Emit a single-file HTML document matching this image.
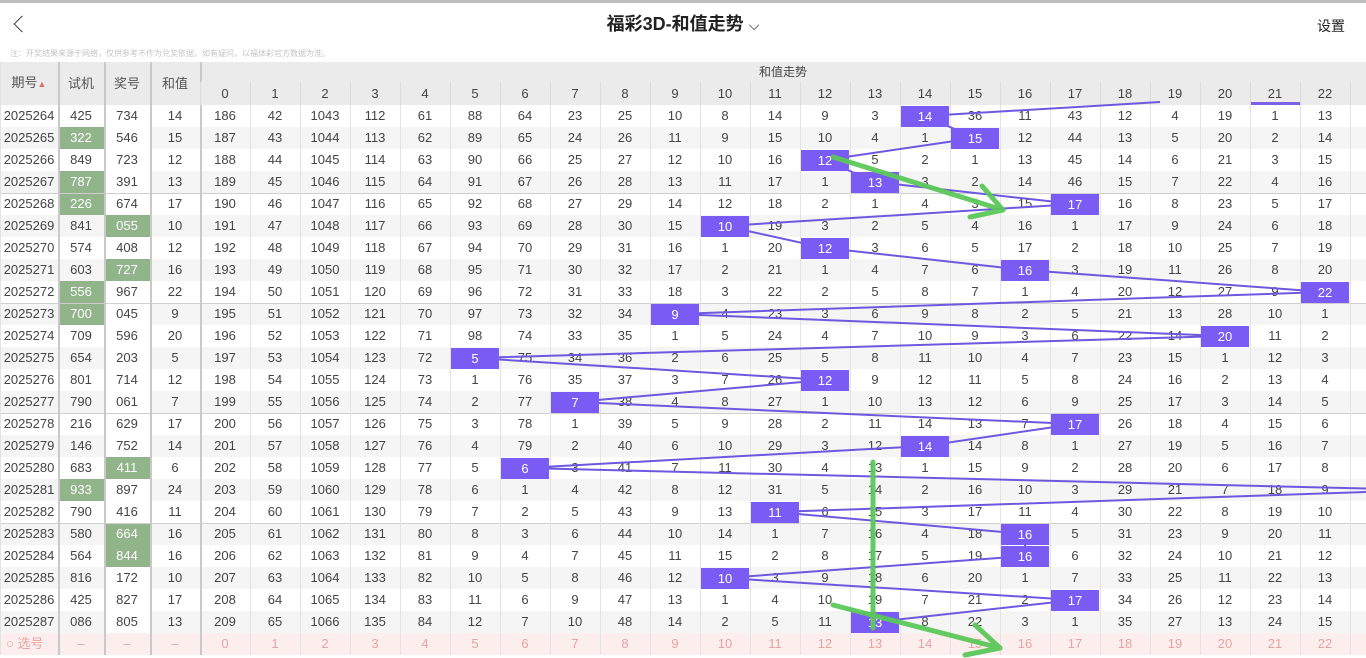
<!DOCTYPE html>
<html><head><meta charset="utf-8">
<style>
*{margin:0;padding:0;box-sizing:border-box}
html,body{width:1366px;height:658px;overflow:hidden;background:#fff;font-family:"Liberation Sans","Noto Sans CJK SC",sans-serif;color:#444}
.top{position:absolute;left:0;top:0;width:1366px;height:3px;background:#bdbdbd}
.title{position:absolute;left:0;top:10px;width:1366px;text-align:center;font-size:18px;font-weight:bold;color:#222}
.back{position:absolute;left:16px;top:18px;width:12px;height:12px;border-left:1.5px solid #444;border-bottom:1.5px solid #444;transform:rotate(45deg)}
.set{position:absolute;right:21px;top:16px;font-size:14px;color:#222}
.note{position:absolute;left:10px;top:48px;font-size:8px;color:#c4c4c4}
table{position:absolute;left:0;top:62px;border-collapse:separate;border-spacing:0;table-layout:fixed;width:1366px;font-size:13px}
td,th{padding:0;text-align:center;font-weight:normal;height:22px;line-height:22px;white-space:nowrap;overflow:hidden;box-shadow:inset 1px 0 #e3e3e3}
thead th{background:#ebebeb;color:#444}
thead tr.h1 th{height:20px;line-height:20px}
thead tr.h2 th{height:23px;line-height:23px;box-shadow:inset 1px 0 #dcdcdc}
th.L{font-size:13px;color:#555}
tbody tr:nth-child(even) td{background:#f5f5f5}
td.s,th.s{box-shadow:inset 2px 0 #c9c9c9}
tbody tr.g td{box-shadow:inset 1px 0 #e3e3e3,inset 0 1px #cfcfcf}
tbody tr.g td.s{box-shadow:inset 2px 0 #c9c9c9,inset 0 1px #cfcfcf}
td.gr{background:#92b48b!important;color:#fff}
td.w{background:#fff!important}
tr.last td{background:#fdeeee!important;color:#e7a2a2}
</style></head><body>
<div class="top"></div>
<div class="back"></div>
<div class="title">福彩3D-和值走势 <span style="font-weight:normal;font-size:14px">⌵</span></div>
<div class="set">设置</div>
<div class="note">注：开奖结果来源于网络，仅供参考不作为兑奖依据，如有疑问，以福体彩官方数据为准。</div>
<table>
<colgroup><col style="width:58px"><col style="width:46px"><col style="width:46px"><col style="width:50px">
<col style="width:50px"><col style="width:50px"><col style="width:50px"><col style="width:50px"><col style="width:50px"><col style="width:50px"><col style="width:50px"><col style="width:50px"><col style="width:50px"><col style="width:50px"><col style="width:50px"><col style="width:50px"><col style="width:50px"><col style="width:50px"><col style="width:50px"><col style="width:50px"><col style="width:50px"><col style="width:50px"><col style="width:50px"><col style="width:50px"><col style="width:50px"><col style="width:50px"><col style="width:50px"><col style="width:16px"></colgroup>
<thead>
<tr class="h1"><th rowspan="2" class="L">期号<span style="color:#e07070;font-size:9px">▲</span></th><th rowspan="2" class="L s">试机</th><th rowspan="2" class="L s">奖号</th><th rowspan="2" class="L s">和值</th><th colspan="24" class="s" style="font-size:12px">和值走势</th></tr>
<tr class="h2"><th class="s">0</th><th>1</th><th>2</th><th>3</th><th>4</th><th>5</th><th>6</th><th>7</th><th>8</th><th>9</th><th>10</th><th>11</th><th>12</th><th>13</th><th>14</th><th>15</th><th>16</th><th>17</th><th>18</th><th>19</th><th>20</th><th style="box-shadow:inset 1px 0 #dcdcdc,inset 0 -3px #7b61e8">21</th><th>22</th><th></th></tr>
</thead>
<tbody>
<tr><td>2025264</td><td class="s">425</td><td class="s w">734</td><td class="s">14</td><td class="s">186</td><td>42</td><td>1043</td><td>112</td><td>61</td><td>88</td><td>64</td><td>23</td><td>25</td><td>10</td><td>8</td><td>14</td><td>9</td><td>3</td><td>14</td><td>36</td><td>11</td><td>43</td><td>12</td><td>4</td><td>19</td><td>1</td><td>13</td><td></td></tr>
<tr><td>2025265</td><td class="s gr">322</td><td class="s w">546</td><td class="s">15</td><td class="s">187</td><td>43</td><td>1044</td><td>113</td><td>62</td><td>89</td><td>65</td><td>24</td><td>26</td><td>11</td><td>9</td><td>15</td><td>10</td><td>4</td><td>1</td><td>15</td><td>12</td><td>44</td><td>13</td><td>5</td><td>20</td><td>2</td><td>14</td><td></td></tr>
<tr><td>2025266</td><td class="s">849</td><td class="s w">723</td><td class="s">12</td><td class="s">188</td><td>44</td><td>1045</td><td>114</td><td>63</td><td>90</td><td>66</td><td>25</td><td>27</td><td>12</td><td>10</td><td>16</td><td>12</td><td>5</td><td>2</td><td>1</td><td>13</td><td>45</td><td>14</td><td>6</td><td>21</td><td>3</td><td>15</td><td></td></tr>
<tr><td>2025267</td><td class="s gr">787</td><td class="s w">391</td><td class="s">13</td><td class="s">189</td><td>45</td><td>1046</td><td>115</td><td>64</td><td>91</td><td>67</td><td>26</td><td>28</td><td>13</td><td>11</td><td>17</td><td>1</td><td>13</td><td>3</td><td>2</td><td>14</td><td>46</td><td>15</td><td>7</td><td>22</td><td>4</td><td>16</td><td></td></tr>
<tr class="g"><td>2025268</td><td class="s gr">226</td><td class="s w">674</td><td class="s">17</td><td class="s">190</td><td>46</td><td>1047</td><td>116</td><td>65</td><td>92</td><td>68</td><td>27</td><td>29</td><td>14</td><td>12</td><td>18</td><td>2</td><td>1</td><td>4</td><td>3</td><td>15</td><td>17</td><td>16</td><td>8</td><td>23</td><td>5</td><td>17</td><td></td></tr>
<tr><td>2025269</td><td class="s">841</td><td class="s gr">055</td><td class="s">10</td><td class="s">191</td><td>47</td><td>1048</td><td>117</td><td>66</td><td>93</td><td>69</td><td>28</td><td>30</td><td>15</td><td>10</td><td>19</td><td>3</td><td>2</td><td>5</td><td>4</td><td>16</td><td>1</td><td>17</td><td>9</td><td>24</td><td>6</td><td>18</td><td></td></tr>
<tr><td>2025270</td><td class="s">574</td><td class="s w">408</td><td class="s">12</td><td class="s">192</td><td>48</td><td>1049</td><td>118</td><td>67</td><td>94</td><td>70</td><td>29</td><td>31</td><td>16</td><td>1</td><td>20</td><td>12</td><td>3</td><td>6</td><td>5</td><td>17</td><td>2</td><td>18</td><td>10</td><td>25</td><td>7</td><td>19</td><td></td></tr>
<tr><td>2025271</td><td class="s">603</td><td class="s gr">727</td><td class="s">16</td><td class="s">193</td><td>49</td><td>1050</td><td>119</td><td>68</td><td>95</td><td>71</td><td>30</td><td>32</td><td>17</td><td>2</td><td>21</td><td>1</td><td>4</td><td>7</td><td>6</td><td>16</td><td>3</td><td>19</td><td>11</td><td>26</td><td>8</td><td>20</td><td></td></tr>
<tr><td>2025272</td><td class="s gr">556</td><td class="s w">967</td><td class="s">22</td><td class="s">194</td><td>50</td><td>1051</td><td>120</td><td>69</td><td>96</td><td>72</td><td>31</td><td>33</td><td>18</td><td>3</td><td>22</td><td>2</td><td>5</td><td>8</td><td>7</td><td>1</td><td>4</td><td>20</td><td>12</td><td>27</td><td>9</td><td>22</td><td></td></tr>
<tr class="g"><td>2025273</td><td class="s gr">700</td><td class="s w">045</td><td class="s">9</td><td class="s">195</td><td>51</td><td>1052</td><td>121</td><td>70</td><td>97</td><td>73</td><td>32</td><td>34</td><td>9</td><td>4</td><td>23</td><td>3</td><td>6</td><td>9</td><td>8</td><td>2</td><td>5</td><td>21</td><td>13</td><td>28</td><td>10</td><td>1</td><td></td></tr>
<tr><td>2025274</td><td class="s">709</td><td class="s w">596</td><td class="s">20</td><td class="s">196</td><td>52</td><td>1053</td><td>122</td><td>71</td><td>98</td><td>74</td><td>33</td><td>35</td><td>1</td><td>5</td><td>24</td><td>4</td><td>7</td><td>10</td><td>9</td><td>3</td><td>6</td><td>22</td><td>14</td><td>20</td><td>11</td><td>2</td><td></td></tr>
<tr><td>2025275</td><td class="s">654</td><td class="s w">203</td><td class="s">5</td><td class="s">197</td><td>53</td><td>1054</td><td>123</td><td>72</td><td>5</td><td>75</td><td>34</td><td>36</td><td>2</td><td>6</td><td>25</td><td>5</td><td>8</td><td>11</td><td>10</td><td>4</td><td>7</td><td>23</td><td>15</td><td>1</td><td>12</td><td>3</td><td></td></tr>
<tr><td>2025276</td><td class="s">801</td><td class="s w">714</td><td class="s">12</td><td class="s">198</td><td>54</td><td>1055</td><td>124</td><td>73</td><td>1</td><td>76</td><td>35</td><td>37</td><td>3</td><td>7</td><td>26</td><td>12</td><td>9</td><td>12</td><td>11</td><td>5</td><td>8</td><td>24</td><td>16</td><td>2</td><td>13</td><td>4</td><td></td></tr>
<tr><td>2025277</td><td class="s">790</td><td class="s w">061</td><td class="s">7</td><td class="s">199</td><td>55</td><td>1056</td><td>125</td><td>74</td><td>2</td><td>77</td><td>7</td><td>38</td><td>4</td><td>8</td><td>27</td><td>1</td><td>10</td><td>13</td><td>12</td><td>6</td><td>9</td><td>25</td><td>17</td><td>3</td><td>14</td><td>5</td><td></td></tr>
<tr class="g"><td>2025278</td><td class="s">216</td><td class="s w">629</td><td class="s">17</td><td class="s">200</td><td>56</td><td>1057</td><td>126</td><td>75</td><td>3</td><td>78</td><td>1</td><td>39</td><td>5</td><td>9</td><td>28</td><td>2</td><td>11</td><td>14</td><td>13</td><td>7</td><td>17</td><td>26</td><td>18</td><td>4</td><td>15</td><td>6</td><td></td></tr>
<tr><td>2025279</td><td class="s">146</td><td class="s w">752</td><td class="s">14</td><td class="s">201</td><td>57</td><td>1058</td><td>127</td><td>76</td><td>4</td><td>79</td><td>2</td><td>40</td><td>6</td><td>10</td><td>29</td><td>3</td><td>12</td><td>14</td><td>14</td><td>8</td><td>1</td><td>27</td><td>19</td><td>5</td><td>16</td><td>7</td><td></td></tr>
<tr><td>2025280</td><td class="s">683</td><td class="s gr">411</td><td class="s">6</td><td class="s">202</td><td>58</td><td>1059</td><td>128</td><td>77</td><td>5</td><td>6</td><td>3</td><td>41</td><td>7</td><td>11</td><td>30</td><td>4</td><td>13</td><td>1</td><td>15</td><td>9</td><td>2</td><td>28</td><td>20</td><td>6</td><td>17</td><td>8</td><td></td></tr>
<tr><td>2025281</td><td class="s gr">933</td><td class="s w">897</td><td class="s">24</td><td class="s">203</td><td>59</td><td>1060</td><td>129</td><td>78</td><td>6</td><td>1</td><td>4</td><td>42</td><td>8</td><td>12</td><td>31</td><td>5</td><td>14</td><td>2</td><td>16</td><td>10</td><td>3</td><td>29</td><td>21</td><td>7</td><td>18</td><td>9</td><td></td></tr>
<tr><td>2025282</td><td class="s">790</td><td class="s w">416</td><td class="s">11</td><td class="s">204</td><td>60</td><td>1061</td><td>130</td><td>79</td><td>7</td><td>2</td><td>5</td><td>43</td><td>9</td><td>13</td><td>11</td><td>6</td><td>15</td><td>3</td><td>17</td><td>11</td><td>4</td><td>30</td><td>22</td><td>8</td><td>19</td><td>10</td><td></td></tr>
<tr class="g"><td>2025283</td><td class="s">580</td><td class="s gr">664</td><td class="s">16</td><td class="s">205</td><td>61</td><td>1062</td><td>131</td><td>80</td><td>8</td><td>3</td><td>6</td><td>44</td><td>10</td><td>14</td><td>1</td><td>7</td><td>16</td><td>4</td><td>18</td><td>16</td><td>5</td><td>31</td><td>23</td><td>9</td><td>20</td><td>11</td><td></td></tr>
<tr><td>2025284</td><td class="s">564</td><td class="s gr">844</td><td class="s">16</td><td class="s">206</td><td>62</td><td>1063</td><td>132</td><td>81</td><td>9</td><td>4</td><td>7</td><td>45</td><td>11</td><td>15</td><td>2</td><td>8</td><td>17</td><td>5</td><td>19</td><td>16</td><td>6</td><td>32</td><td>24</td><td>10</td><td>21</td><td>12</td><td></td></tr>
<tr><td>2025285</td><td class="s">816</td><td class="s w">172</td><td class="s">10</td><td class="s">207</td><td>63</td><td>1064</td><td>133</td><td>82</td><td>10</td><td>5</td><td>8</td><td>46</td><td>12</td><td>10</td><td>3</td><td>9</td><td>18</td><td>6</td><td>20</td><td>1</td><td>7</td><td>33</td><td>25</td><td>11</td><td>22</td><td>13</td><td></td></tr>
<tr><td>2025286</td><td class="s">425</td><td class="s w">827</td><td class="s">17</td><td class="s">208</td><td>64</td><td>1065</td><td>134</td><td>83</td><td>11</td><td>6</td><td>9</td><td>47</td><td>13</td><td>1</td><td>4</td><td>10</td><td>19</td><td>7</td><td>21</td><td>2</td><td>17</td><td>34</td><td>26</td><td>12</td><td>23</td><td>14</td><td></td></tr>
<tr><td>2025287</td><td class="s">086</td><td class="s w">805</td><td class="s">13</td><td class="s">209</td><td>65</td><td>1066</td><td>135</td><td>84</td><td>12</td><td>7</td><td>10</td><td>48</td><td>14</td><td>2</td><td>5</td><td>11</td><td>13</td><td>8</td><td>22</td><td>3</td><td>1</td><td>35</td><td>27</td><td>13</td><td>24</td><td>15</td><td></td></tr>
<tr class="last"><td style="text-align:left;padding-left:6px">○ 选号</td><td class="s">–</td><td class="s">–</td><td class="s">–</td><td class="s">0</td><td>1</td><td>2</td><td>3</td><td>4</td><td>5</td><td>6</td><td>7</td><td>8</td><td>9</td><td>10</td><td>11</td><td>12</td><td>13</td><td>14</td><td>15</td><td>16</td><td>17</td><td>18</td><td>19</td><td>20</td><td>21</td><td>22</td><td></td></tr>
</tbody></table>
<svg width="1366" height="658" style="position:absolute;left:0;top:0" font-family="Liberation Sans, sans-serif" font-size="13">
<g stroke="#6f58e0" stroke-width="2" fill="none">
<line x1="925" y1="116" x2="1160" y2="102"/>
<polyline points="925,116 975,138 825,160 875,182 1075,204 725,226 825,248 1025,270 1325,292 675,314 1225,336 475,358 825,380 575,402 1075,424 925,446 525,468 1425,490 775,512 1025,534 1025,556 725,578 1075,600 875,622"/>
</g>
<g fill="#7a5cf5">
<rect x="901" y="106" width="48" height="21"/><rect x="951" y="128" width="48" height="21"/><rect x="801" y="150" width="48" height="21"/><rect x="851" y="172" width="48" height="21"/><rect x="1051" y="194" width="48" height="21"/><rect x="701" y="216" width="48" height="21"/><rect x="801" y="238" width="48" height="21"/><rect x="1001" y="260" width="48" height="21"/><rect x="1301" y="282" width="48" height="21"/><rect x="651" y="304" width="48" height="21"/><rect x="1201" y="326" width="48" height="21"/><rect x="451" y="348" width="48" height="21"/><rect x="801" y="370" width="48" height="21"/><rect x="551" y="392" width="48" height="21"/><rect x="1051" y="414" width="48" height="21"/><rect x="901" y="436" width="48" height="21"/><rect x="501" y="458" width="48" height="21"/><rect x="751" y="502" width="48" height="21"/><rect x="1001" y="524" width="48" height="21"/><rect x="1001" y="546" width="48" height="21"/><rect x="701" y="568" width="48" height="21"/><rect x="1051" y="590" width="48" height="21"/><rect x="851" y="612" width="48" height="21"/>
</g>
<g fill="#fff" text-anchor="middle">
<text x="925" y="121">14</text><text x="975" y="143">15</text><text x="825" y="165">12</text><text x="875" y="187">13</text><text x="1075" y="209">17</text><text x="725" y="231">10</text><text x="825" y="253">12</text><text x="1025" y="275">16</text><text x="1325" y="297">22</text><text x="675" y="319">9</text><text x="1225" y="341">20</text><text x="475" y="363">5</text><text x="825" y="385">12</text><text x="575" y="407">7</text><text x="1075" y="429">17</text><text x="925" y="451">14</text><text x="525" y="473">6</text><text x="775" y="517">11</text><text x="1025" y="539">16</text><text x="1025" y="561">16</text><text x="725" y="583">10</text><text x="1075" y="605">17</text><text x="875" y="627">13</text>
</g>
<g stroke="#5cc85a" stroke-width="5" stroke-linecap="round" stroke-linejoin="round" fill="none" opacity="0.95">
<line x1="833" y1="157" x2="1003" y2="210"/><polyline points="982,186 1003,210 970,217"/>
<line x1="873" y1="462" x2="873" y2="628"/>
<line x1="833" y1="605" x2="1000" y2="648"/><polyline points="975,625 1000,648 965,655"/>
</g>
</svg>
</body></html>
